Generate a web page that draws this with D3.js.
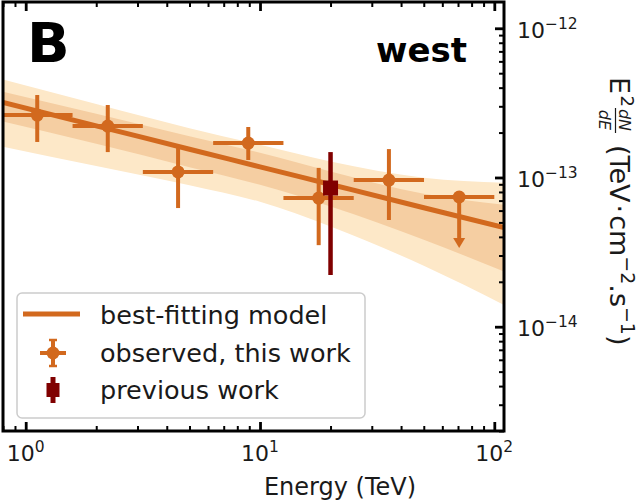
<!DOCTYPE html>
<html>
<head>
<meta charset="utf-8">
<script src="https://cdn.jsdelivr.net/npm/d3@7"></script>
<style>
  body { margin: 0; background: #fff; }
  svg { display: block; }
  text { font-family: "DejaVu Sans", sans-serif; fill: #1a1a1a; }
</style>
</head>
<body>
<svg id="chart" width="641" height="504"></svg>
<script>
// ---- Spectral points (observed, this work) ----
const binLow   = [0.794, 1.585, 3.162, 6.310, 12.59, 25.12, 50.12];
const binHigh  = [1.585, 3.162, 6.310, 12.59, 25.12, 50.12, 100.0];
const energy   = [1.12, 2.24, 4.47, 8.91, 17.8, 35.5, 70.8];
const flux     = [2.62e-13, 2.21e-13, 1.09e-13, 1.70e-13, 7.28e-14, 9.61e-14, 7.40e-14];
const fluxHigh = [3.57e-13, 3.06e-13, 1.60e-13, 2.18e-13, 1.16e-13, 1.55e-13, 7.40e-14];
const fluxLow  = [1.73e-13, 1.48e-13, 6.24e-14, 1.31e-13, 3.52e-14, 5.19e-14, 3.37e-14];
const upperLimit = [false, false, false, false, false, false, true];

// ---- Previous measurement ----
const prevEnergy   = [20.0];
const prevFlux     = [8.50e-14];
const prevFluxHigh = [1.48e-13];
const prevFluxLow  = [2.22e-14];

// ---- Best-fitting model and its uncertainty bands ----
const modelEnergy = [0.8, 2, 5, 10, 20, 50, 110];
const modelFlux   = [3.18e-13, 2.22e-13, 1.547e-13, 1.179e-13, 8.98e-14, 6.27e-14, 4.61e-14];
const innerHigh   = [3.76e-13, 2.67e-13, 1.89e-13, 1.464e-13, 1.098e-13, 7.78e-14, 6.57e-14];
const innerLow    = [2.37e-13, 1.68e-13, 1.172e-13, 8.93e-14, 6.40e-14, 3.83e-14, 2.34e-14];
const outerHigh   = [4.53e-13, 3.11e-13, 2.14e-13, 1.656e-13, 1.281e-13, 9.97e-14, 9.23e-14];
const outerLow    = [1.61e-13, 1.196e-13, 8.88e-14, 6.87e-14, 4.70e-14, 2.56e-14, 1.40e-14];

// ---- Axis ticks ----
const xMajorTicks = [1, 10, 100];
const xTickExponents = ["0", "1", "2"];
const yMajorTicks = [1e-14, 1e-13, 1e-12];
const yTickExponents = ["\u221214", "\u221213", "\u221212"];

const legendLabels = ["best-fitting model", "observed, this work", "previous work"];

const ORANGE = "#d2691e";
const DARKRED = "#800000";

const plot = { left: 3, right: 504, top: 2, bottom: 431 };
const x = d3.scaleLog().domain([0.8, 110]).range([plot.left, plot.right]);
const y = d3.scaleLog().domain([2e-15, 1.5e-12]).range([plot.bottom, plot.top]);

const svg = d3.select("#chart");
svg.append("rect").attr("width", 641).attr("height", 504).attr("fill", "#fff");

svg.append("defs").append("clipPath").attr("id", "plotClip")
  .append("rect")
  .attr("x", plot.left).attr("y", plot.top)
  .attr("width", plot.right - plot.left).attr("height", plot.bottom - plot.top);

const inner = svg.append("g").attr("clip-path", "url(#plotClip)");

// uncertainty bands
const band = modelEnergy.map((e, i) => ({
  e, m: modelFlux[i], iLo: innerLow[i], iHi: innerHigh[i], oLo: outerLow[i], oHi: outerHigh[i]
}));
const areaOuter = d3.area().curve(d3.curveMonotoneX)
  .x(d => x(d.e)).y0(d => y(d.oLo)).y1(d => y(d.oHi));
const areaInner = d3.area().curve(d3.curveMonotoneX)
  .x(d => x(d.e)).y0(d => y(d.iLo)).y1(d => y(d.iHi));
inner.append("path").attr("d", areaOuter(band)).attr("fill", "#fde8c8");
inner.append("path").attr("d", areaInner(band)).attr("fill", "#f5cea2");

// model line
const modelLine = d3.line().curve(d3.curveMonotoneX).x(d => x(d.e)).y(d => y(d.m));
inner.append("path").attr("d", modelLine(band))
  .attr("fill", "none").attr("stroke", ORANGE).attr("stroke-width", 5);

// observed points
const pts = energy.map((e, i) => ({
  e, f: flux[i], lo: fluxLow[i], hi: fluxHigh[i], eLo: binLow[i], eHi: binHigh[i], ul: upperLimit[i]
}));
const gPts = inner.append("g");
gPts.selectAll("line.xerr").data(pts).join("line")
  .attr("x1", d => x(d.eLo)).attr("x2", d => x(d.eHi))
  .attr("y1", d => y(d.f)).attr("y2", d => y(d.f))
  .attr("stroke", ORANGE).attr("stroke-width", 4);
gPts.selectAll("line.yerr").data(pts).join("line")
  .attr("x1", d => x(d.e)).attr("x2", d => x(d.e))
  .attr("y1", d => d.ul ? y(d.f) : y(d.hi))
  .attr("y2", d => d.ul ? y(d.lo) - 6 : y(d.lo))
  .attr("stroke", ORANGE).attr("stroke-width", 4);
gPts.selectAll("path.arrow").data(pts.filter(d => d.ul)).join("path")
  .attr("d", d => {
    const cx = x(d.e), ty = y(d.lo);
    return `M${cx - 6},${ty - 10}L${cx + 6},${ty - 10}L${cx},${ty}Z`;
  })
  .attr("fill", ORANGE);
gPts.selectAll("circle").data(pts).join("circle")
  .attr("cx", d => x(d.e)).attr("cy", d => y(d.f)).attr("r", 6.5)
  .attr("fill", ORANGE);

// previous measurement
const prev = prevEnergy.map((e, i) => ({ e, f: prevFlux[i], lo: prevFluxLow[i], hi: prevFluxHigh[i] }));
const gPrev = inner.append("g");
gPrev.selectAll("line").data(prev).join("line")
  .attr("x1", d => x(d.e)).attr("x2", d => x(d.e))
  .attr("y1", d => y(d.hi)).attr("y2", d => y(d.lo))
  .attr("stroke", DARKRED).attr("stroke-width", 4.5);
gPrev.selectAll("rect").data(prev).join("rect")
  .attr("x", d => x(d.e) - 7.5).attr("y", d => y(d.f) - 7.5)
  .attr("width", 15).attr("height", 15).attr("fill", DARKRED);

// ---- Axes (ticks drawn inward on bottom, top and right) ----
const isMajor = v => Math.abs(Math.log10(v) - Math.round(Math.log10(v))) < 1e-6;
const xMinor = x.ticks().filter(v => !isMajor(v));
const yMinor = y.ticks().filter(v => !isMajor(v));

function styleAxis(g, width) {
  g.select(".domain").remove();
  g.selectAll(".tick line").attr("stroke", "#000").attr("stroke-width", width);
  g.selectAll(".tick text").remove();
}
svg.append("g").attr("transform", `translate(0,${plot.bottom})`)
  .call(d3.axisBottom(x).tickValues(xMinor).tickSize(-5).tickFormat(""))
  .call(g => styleAxis(g, 2));
svg.append("g").attr("transform", `translate(0,${plot.bottom})`)
  .call(d3.axisBottom(x).tickValues(xMajorTicks).tickSize(-9).tickFormat(""))
  .call(g => styleAxis(g, 2.8));
svg.append("g").attr("transform", `translate(0,${plot.top})`)
  .call(d3.axisTop(x).tickValues(xMinor).tickSize(-5).tickFormat(""))
  .call(g => styleAxis(g, 2));
svg.append("g").attr("transform", `translate(0,${plot.top})`)
  .call(d3.axisTop(x).tickValues(xMajorTicks).tickSize(-9).tickFormat(""))
  .call(g => styleAxis(g, 2.8));
svg.append("g").attr("transform", `translate(${plot.right},0)`)
  .call(d3.axisRight(y).tickValues(yMinor).tickSize(-5).tickFormat(""))
  .call(g => styleAxis(g, 2));
svg.append("g").attr("transform", `translate(${plot.right},0)`)
  .call(d3.axisRight(y).tickValues(yMajorTicks).tickSize(-9).tickFormat(""))
  .call(g => styleAxis(g, 2.8));

// frame
svg.append("rect")
  .attr("x", plot.left).attr("y", plot.top)
  .attr("width", plot.right - plot.left).attr("height", plot.bottom - plot.top)
  .attr("fill", "none").attr("stroke", "#000").attr("stroke-width", 3);

// tick labels with exponent superscripts
xMajorTicks.forEach((v, i) => {
  const t = svg.append("text").attr("x", x(v)).attr("y", 461)
    .attr("text-anchor", "middle").style("font-size", "22px");
  t.append("tspan").text("10");
  t.append("tspan").attr("dy", -9).style("font-size", "15.5px").text(xTickExponents[i]);
});
yMajorTicks.forEach((v, i) => {
  const t = svg.append("text").attr("x", 517).attr("y", y(v) + 9.5)
    .style("font-size", "22px");
  t.append("tspan").text("10");
  t.append("tspan").attr("dy", -9).style("font-size", "15.5px").text(yTickExponents[i]);
});

// x-axis label
svg.append("text").attr("x", 340).attr("y", 495).attr("text-anchor", "middle")
  .style("font-size", "24px").text("Energy (TeV)");

// y-axis label, rotated to read downward on the right
const yl = svg.append("g").attr("transform", "translate(610,77) rotate(90)");
yl.append("text").attr("x", 0).attr("y", 0).style("font-size", "27px").text("E");
yl.append("text").attr("x", 18.5).attr("y", -11).style("font-size", "18px").text("2");
yl.append("text").attr("x", 43).attr("y", -9).attr("text-anchor", "middle")
  .style("font-size", "16px").style("font-style", "italic").text("dN");
yl.append("line").attr("x1", 31).attr("x2", 56).attr("y1", -5.5).attr("y2", -5.5)
  .attr("stroke", "#1a1a1a").attr("stroke-width", 1.2);
yl.append("text").attr("x", 43).attr("y", 11).attr("text-anchor", "middle")
  .style("font-size", "16px").style("font-style", "italic").text("dE");
const ylt = yl.append("text").attr("x", 68).attr("y", 0).style("font-size", "27px");
ylt.append("tspan").text("(TeV");
ylt.append("tspan").attr("dx", 2).text("\u00b7");
ylt.append("tspan").attr("dx", 2).text("cm");
ylt.append("tspan").attr("dy", -11).style("font-size", "19px").text("\u22122");
ylt.append("tspan").attr("dy", 11).text(".s");
ylt.append("tspan").attr("dy", -11).style("font-size", "19px").text("\u22121");
ylt.append("tspan").attr("dy", 11).text(")");

// panel letter and region name
svg.append("text").attr("x", 27).attr("y", 62).style("font-size", "56px")
  .style("font-weight", "bold").style("fill", "#000").text("B");
svg.append("text").attr("x", 467).attr("y", 62).attr("text-anchor", "end")
  .style("font-size", "34px").style("font-weight", "bold").style("fill", "#000").text("west");

// ---- Legend ----
const lg = svg.append("g");
lg.append("rect").attr("x", 17).attr("y", 293).attr("width", 348).attr("height", 125)
  .attr("rx", 5).attr("fill", "#fff").attr("fill-opacity", 0.8)
  .attr("stroke", "#cccccc").attr("stroke-width", 1.5);
const rowY = [324, 361.5, 399];
legendLabels.forEach((lab, i) => {
  lg.append("text").attr("x", 100).attr("y", rowY[i]).style("font-size", "25.5px").text(lab);
});
// model line sample
lg.append("line").attr("x1", 23).attr("x2", 80).attr("y1", 314).attr("y2", 314)
  .attr("stroke", ORANGE).attr("stroke-width", 5);
// observed marker sample
const oy = 353, ox = 53;
lg.append("line").attr("x1", ox - 13).attr("x2", ox + 13).attr("y1", oy).attr("y2", oy)
  .attr("stroke", ORANGE).attr("stroke-width", 4);
lg.append("line").attr("x1", ox).attr("x2", ox).attr("y1", oy - 13).attr("y2", oy + 13)
  .attr("stroke", ORANGE).attr("stroke-width", 4);
[[ox - 4, oy - 13, ox + 4, oy - 13], [ox - 4, oy + 13, ox + 4, oy + 13]].forEach(s => {
  lg.append("line").attr("x1", s[0]).attr("y1", s[1]).attr("x2", s[2]).attr("y2", s[3])
    .attr("stroke", ORANGE).attr("stroke-width", 2.5);
});
lg.append("circle").attr("cx", ox).attr("cy", oy).attr("r", 6.5).attr("fill", ORANGE);
// previous marker sample
const py = 390;
lg.append("line").attr("x1", ox).attr("x2", ox).attr("y1", py - 13).attr("y2", py + 13)
  .attr("stroke", DARKRED).attr("stroke-width", 5);
lg.append("rect").attr("x", ox - 6.5).attr("y", py - 7).attr("width", 13).attr("height", 14)
  .attr("fill", DARKRED);
</script>
</body>
</html>
